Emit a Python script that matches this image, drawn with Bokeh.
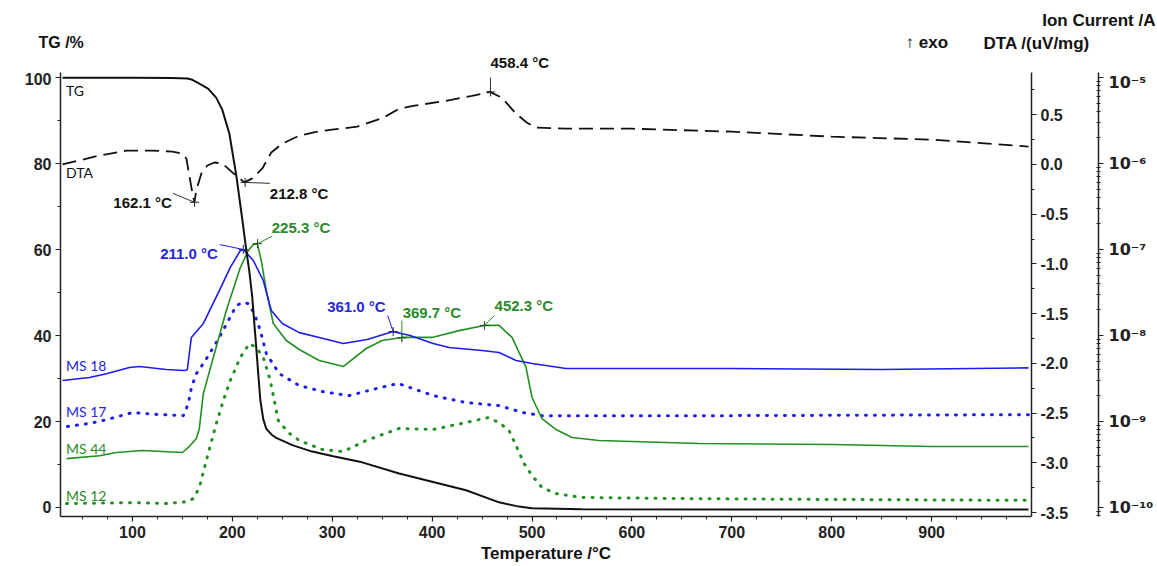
from bokeh.plotting import figure
from bokeh.layouts import column
from bokeh.models import (Range1d, LinearAxis, LogAxis, LogScale, FixedTicker,
                          SingleIntervalTicker, PrintfTickFormatter,
                          CustomJSTickFormatter, Label)
from bokeh.embed import file_html
from bokeh.resources import INLINE

# ---------------- data ----------------
tg_temp = [30, 100, 140, 155, 160, 167, 176, 184, 190, 197, 204, 210, 214, 217, 220, 223, 226,
           228, 231, 234, 240, 244, 260, 280, 301, 330, 367, 400, 434, 467, 487, 500, 550, 700,
           850, 997]
tg_mass = [100, 100, 99.9, 99.8, 99.5, 98.6, 97.4, 95.3, 92.5, 87, 77.2, 67, 59.8, 55, 48.8, 40,
           31, 25, 20.5, 18.3, 16.8, 16.2, 14.5, 13, 11.9, 10.5, 7.9, 6.0, 4.0, 1.2, 0.2, -0.2,
           -0.4, -0.5, -0.5, -0.5]

dta_temp = [30, 67, 94, 120, 140, 150, 154, 159, 162, 164, 169, 175, 182, 190, 200, 212, 220,
            230, 239, 250, 267, 285, 300, 325, 351, 367, 381, 414, 440, 458, 470, 484, 495,
            504, 534, 600, 700, 800, 900, 997]
dta_val = [0.0, 0.09, 0.14, 0.14, 0.13, 0.11, 0.06, -0.23, -0.38, -0.26, -0.09, -0.01, 0.02,
           0.01, -0.08, -0.18, -0.14, -0.04, 0.12, 0.21, 0.29, 0.33, 0.35, 0.38, 0.47, 0.56,
           0.59, 0.64, 0.69, 0.73, 0.67, 0.51, 0.42, 0.37, 0.36, 0.36, 0.33, 0.28, 0.25, 0.18]

ms18_temp = [30, 57, 74, 97, 107, 134, 152, 155, 157, 159, 171, 187, 198, 208, 211, 221, 231,
             239, 250, 267, 287, 311, 335, 361, 378, 401, 417, 450, 467, 484, 500, 534, 700, 850, 997]
ms18_cur = [3.0e-9, 3.25e-9, 3.6e-9, 4.25e-9, 4.36e-9, 4.03e-9, 3.92e-9, 4.0e-9, 6.3e-9,
            9.5e-9, 1.38e-8, 3.33e-8, 6.2e-8, 9.7e-8, 1.0e-7, 7.45e-8, 4.36e-8, 1.95e-8,
            1.38e-8, 1.08e-8, 9.5e-9, 8.07e-9, 8.98e-9, 1.11e-8, 1.0e-8, 8.07e-9, 7.25e-9,
            6.7e-9, 6.35e-9, 5.12e-9, 4.72e-9, 4.13e-9, 4.13e-9, 4.03e-9, 4.2e-9]

ms17_temp = [35, 57, 74, 100, 124, 151, 156, 159, 164, 171, 181, 189, 204, 210, 216, 222, 228,
             234, 247, 267, 290, 317, 340, 366, 401, 434, 467, 491, 510, 700, 997]
ms17_cur = [8.75e-10, 9.5e-10, 1.05e-9, 1.27e-9, 1.21e-9, 1.17e-9, 1.62e-9, 2.48e-9, 3.6e-9,
            4.72e-9, 7.25e-9, 1.05e-8, 2.23e-8, 2.42e-8, 2.35e-8, 1.8e-8, 1.14e-8, 6.18e-9,
            3.6e-9, 2.62e-9, 2.23e-9, 2.0e-9, 2.35e-9, 2.77e-9, 2.0e-9, 1.66e-9, 1.53e-9,
            1.27e-9, 1.17e-9, 1.17e-9, 1.2e-9]

ms44_temp = [34, 67, 84, 110, 150, 156, 164, 167, 171, 181, 194, 208, 216, 221, 225, 229, 234,
             241, 254, 267, 287, 311, 334, 350, 370, 400, 427, 452, 467, 480, 494, 500, 510,
             524, 540, 567, 667, 800, 900, 997]
ms44_cur = [3.7e-10, 4.0e-10, 4.36e-10, 4.6e-10, 4.36e-10, 4.99e-10, 6.35e-10, 8.3e-10, 2.12e-9,
            5.55e-9, 1.95e-8, 6.18e-8, 9.73e-8, 1.14e-7, 1.17e-7, 7.45e-8, 3.33e-8, 1.38e-8,
            8.75e-9, 6.88e-9, 5.12e-9, 4.36e-9, 7.06e-9, 8.75e-9, 9.5e-9, 9.5e-9, 1.14e-8,
            1.31e-8, 1.31e-8, 9.5e-9, 4.25e-9, 1.9e-9, 1.08e-9, 8.07e-10, 6.52e-10, 6.01e-10,
            5.55e-10, 5.4e-10, 5.12e-10, 5.12e-10]

ms12_temp = [34, 100, 134, 155, 161, 167, 174, 184, 191, 198, 208, 217, 224, 231, 238, 246, 256,
             267, 290, 311, 334, 367, 401, 434, 456, 467, 477, 484, 492, 500, 510, 524, 550,
             644, 800, 997]
ms12_cur = [1.11e-10, 1.14e-10, 1.11e-10, 1.17e-10, 1.27e-10, 1.71e-10, 3.52e-10, 9.5e-10,
            1.75e-9, 3.0e-9, 5.55e-9, 8.07e-9, 7.25e-9, 5.55e-9, 3.0e-9, 1.03e-9, 7.45e-10,
            6.01e-10, 4.72e-10, 4.48e-10, 6.01e-10, 8.3e-10, 8.07e-10, 9.73e-10, 1.11e-9,
            9.73e-10, 7.86e-10, 5.26e-10, 3.25e-10, 2.36e-10, 1.71e-10, 1.45e-10, 1.31e-10,
            1.27e-10, 1.24e-10, 1.21e-10]

dta_peak_temp = [162.1, 212.8, 458.4]
dta_peak_val = [-0.38, -0.18, 0.73]
blue_peak_temp = [211.0, 361.0]
blue_peak_cur = [1.0e-7, 1.11e-8]
green_peak_temp = [225.3, 369.7, 452.3]
green_peak_cur = [1.17e-7, 9.4e-9, 1.31e-8]

x_ticks = [100, 200, 300, 400, 500, 600, 700, 800, 900]
ion_ticks = [1e-10, 1e-9, 1e-8, 1e-7, 1e-6, 1e-5]

# ---------------- style ----------------
BLUE = "#1c1cf0"
GREEN = "#219021"
BLUE_T = "#2626e0"
GREEN_T = "#2a8a2a"
AX = "#222222"
BOLD = "Liberation Sans"
W = 1156

# ---------- header strip (titles above the plot frame) ----------
top = figure(width=W, height=72, output_backend="svg", toolbar_location=None,
             x_range=Range1d(0, W), y_range=Range1d(72, 0),
             x_axis_location=None, y_axis_location=None,
             min_border=0, min_border_left=0, min_border_right=0,
             min_border_top=0, min_border_bottom=0, outline_line_color=None,
             frame_align=False)
top.grid.visible = False

def tlab(x, y, t, align="left", size="17px"):
    top.add_layout(Label(x=x, y=y, text=t, text_color="#111111", text_align=align,
                         text_baseline="middle", text_font=BOLD,
                         text_font_style="bold", text_font_size=size))

tlab(38, 42, "TG /%", size="16px")
tlab(905, 42, "\u2191 exo")
tlab(983, 43, "DTA /(uV/mg)")
tlab(1155, 20, "Ion Current /A", align="right")
tlab(490, 62, "458.4 \u00b0C", size="15px")

# ---------- main plot ----------
p = figure(width=W, height=493, output_backend="svg", toolbar_location=None,
           x_range=Range1d(28, 1000), y_range=Range1d(-2.1, 101.2),
           min_border_left=60, min_border_right=W - 1035, min_border_top=0,
           min_border_bottom=49, outline_line_color=None, background_fill_color="white",
           frame_align=False)
p.xgrid.visible = False
p.ygrid.visible = False

p.extra_y_ranges = {"dta": Range1d(-3.54, 0.925), "ion": Range1d(7.86e-11, 1.143e-5)}
p.extra_y_scales = {"ion": LogScale()}

def style_axis(ax):
    ax.axis_line_color = AX
    ax.axis_line_width = 1.5
    ax.major_tick_line_color = AX
    ax.minor_tick_line_color = AX
    ax.major_tick_line_width = 1.2
    ax.major_tick_in = 0
    ax.major_tick_out = 5
    ax.minor_tick_in = 0
    ax.minor_tick_out = 3
    ax.major_label_text_font = BOLD
    ax.major_label_text_font_style = "bold"
    ax.major_label_text_font_size = "16px"
    ax.major_label_text_color = AX

xa = p.xaxis[0]
xa.ticker = FixedTicker(ticks=x_ticks, minor_ticks=list(range(50, 1000, 25)))
style_axis(xa)
xa.major_label_standoff = 4
xa.axis_label = "Temperature /\u00b0C"
xa.axis_label_text_font = BOLD
xa.axis_label_text_font_style = "bold"
xa.axis_label_text_font_size = "17px"
xa.axis_label_text_color = "#111111"
xa.axis_label_standoff = 3

ya = p.yaxis[0]
ya.ticker = SingleIntervalTicker(interval=20, num_minor_ticks=2)
style_axis(ya)
ya.major_label_standoff = 4

dta_axis = LinearAxis(y_range_name="dta",
                      ticker=SingleIntervalTicker(interval=0.5, num_minor_ticks=2),
                      formatter=PrintfTickFormatter(format="%.1f"))
style_axis(dta_axis)
dta_axis.major_label_standoff = 4
dta_axis.axis_label = " "
dta_axis.axis_label_text_font_size = "14px"
dta_axis.axis_label_standoff = 8
p.add_layout(dta_axis, "right")

ion_axis = LogAxis(y_range_name="ion",
                   ticker=FixedTicker(ticks=ion_ticks,
                                      minor_ticks=[m * 10.0 ** e for e in range(-11, -4) for m in range(2, 10)]),
                   formatter=CustomJSTickFormatter(code="""
const e = Math.round(Math.log10(tick));
const sup = {'-':'\u207b','0':'\u2070','1':'\u00b9','2':'\u00b2','3':'\u00b3','4':'\u2074','5':'\u2075','6':'\u2076','7':'\u2077','8':'\u2078','9':'\u2079'};
return '10' + String(e).split('').map(c => sup[c]).join('');
"""))
style_axis(ion_axis)
ion_axis.major_label_text_font = "DejaVu Sans"
ion_axis.major_label_text_font_size = "16px"
ion_axis.minor_tick_in = 2
ion_axis.minor_tick_out = 2
ion_axis.major_label_standoff = 5
p.add_layout(ion_axis, "right")

# ---------------- curves ----------------
p.line(ms12_temp, ms12_cur, y_range_name="ion", color=GREEN, line_width=3,
       line_dash="1 8", line_cap="round")
p.line(ms17_temp, ms17_cur, y_range_name="ion", color=BLUE, line_width=3,
       line_dash="1 8", line_cap="round")
p.line(ms44_temp, ms44_cur, y_range_name="ion", color=GREEN, line_width=1.6)
p.line(ms18_temp, ms18_cur, y_range_name="ion", color=BLUE, line_width=1.6)
p.line(dta_temp, dta_val, y_range_name="dta", color="#111111", line_width=1.8,
       line_dash="14 7")
p.line(tg_temp, tg_mass, color="#111111", line_width=2)

# peak markers
p.scatter(dta_peak_temp, dta_peak_val, y_range_name="dta", marker="cross", size=9,
          line_color="#222222", line_width=1)
p.scatter(blue_peak_temp, blue_peak_cur, y_range_name="ion", marker="cross", size=9,
          line_color="#222244", line_width=1)
p.scatter(green_peak_temp, green_peak_cur, y_range_name="ion", marker="cross", size=9,
          line_color="#224422", line_width=1)

# leader lines
p.segment(x0=[140.5, 212.8, 458.4], y0=[-0.29, -0.18, 0.73],
          x1=[162.1, 237.5, 458.4], y1=[-0.38, -0.19, 0.875],
          y_range_name="dta", color="#333333", line_width=1)
p.segment(x0=[187.5, 355.5], y0=[1.14e-7, 1.71e-8], x1=[211.0, 361.0], y1=[1.0e-7, 1.11e-8],
          y_range_name="ion", color=BLUE, line_width=1)
p.segment(x0=[225.3, 369.7, 452.3], y0=[1.17e-7, 8.6e-9, 1.31e-8],
          x1=[239.5, 369.7, 462.5], y1=[1.42e-7, 1.49e-8, 1.71e-8],
          y_range_name="ion", color=GREEN, line_width=1)

def lab(x, y, t, color="#111111", align="left", rng="default", size="15px",
        font=BOLD, style="bold"):
    kw = {}
    if rng != "default":
        kw["y_range_name"] = rng
    p.add_layout(Label(x=x, y=y, text=t, text_color=color, text_align=align,
                       text_baseline="middle", text_font=font,
                       text_font_style=style, text_font_size=size, **kw))

# peak annotations
lab(139.5, -0.38, "162.1 \u00b0C", align="right", rng="dta")
lab(237.5, -0.29, "212.8 \u00b0C", rng="dta")
lab(185.5, 8.98e-8, "211.0 \u00b0C", color=BLUE_T, align="right", rng="ion")
lab(239.5, 1.8e-7, "225.3 \u00b0C", color=GREEN_T, rng="ion")
lab(353.5, 2.17e-8, "361.0 \u00b0C", color=BLUE_T, align="right", rng="ion")
lab(370.5, 1.85e-8, "369.7 \u00b0C", color=GREEN_T, rng="ion")
lab(462.5, 2.23e-8, "452.3 \u00b0C", color=GREEN_T, rng="ion")

# series names
for txt, yv, col in [("TG", 97.0, "#111111"), ("DTA", 77.9, "#111111"),
                     ("MS 18", 33.0, BLUE_T), ("MS 17", 22.3, BLUE_T),
                     ("MS 44", 13.7, GREEN_T), ("MS 12", 2.8, GREEN_T)]:
    lab(33.5, yv, txt, color=col, size="14px", font="Lato", style="normal")

layout = column(top, p, spacing=0)
open("out.html", "w").write(file_html(layout, INLINE))
